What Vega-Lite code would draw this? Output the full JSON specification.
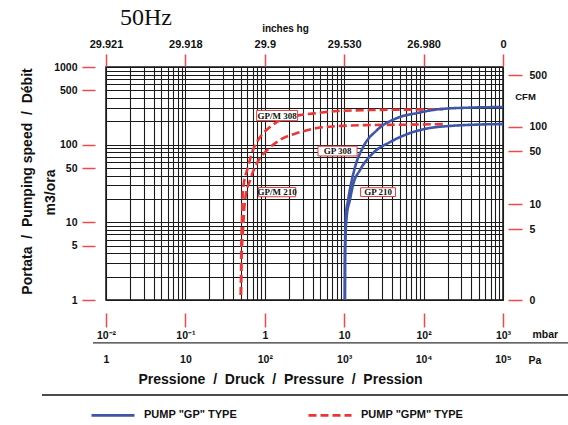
{
  "$schema": "https://vega.github.io/schema/vega-lite/v6.json",
  "autosize": "none",
  "width": 397,
  "height": 233,
  "padding": {"left": 106, "top": 67, "right": 65, "bottom": 125},
  "background": "white",
  "view": {"stroke": "#111", "strokeWidth": 1.5},
  "config": {
    "font": "Liberation Sans",
    "axis": {"labelFont": "Liberation Sans", "labelFontWeight": "bold", "labelFontSize": 10.5, "labelColor": "#111", "titleFont": "Liberation Sans", "titleFontWeight": "bold", "titleColor": "#111", "tickColor": "#f04848", "tickWidth": 1.5, "domain": false, "grid": false, "labelFlush": false, "labelOverlap": false}
  },
  "title": {"text": "50Hz", "font": "Liberation Serif", "fontSize": 24, "fontWeight": "normal", "color": "#111", "anchor": "start", "frame": "group", "dx": 14, "dy": 7, "offset": 0},
  "datasets": {
    "curves": [
      {"model": "GP 308", "type": "GP", "p": 10.2, "q": 1},
      {"model": "GP 308", "type": "GP", "p": 10.25, "q": 4.4},
      {"model": "GP 308", "type": "GP", "p": 10.5, "q": 12.4},
      {"model": "GP 308", "type": "GP", "p": 11.2, "q": 19.4},
      {"model": "GP 308", "type": "GP", "p": 13.7, "q": 51.5},
      {"model": "GP 308", "type": "GP", "p": 17.3, "q": 93},
      {"model": "GP 308", "type": "GP", "p": 25.9, "q": 154},
      {"model": "GP 308", "type": "GP", "p": 46.2, "q": 220},
      {"model": "GP 308", "type": "GP", "p": 82.6, "q": 255},
      {"model": "GP 308", "type": "GP", "p": 161, "q": 287},
      {"model": "GP 308", "type": "GP", "p": 384, "q": 300},
      {"model": "GP 308", "type": "GP", "p": 1000, "q": 305},
      {"model": "GP 210", "type": "GP", "p": 10.2, "q": 1},
      {"model": "GP 210", "type": "GP", "p": 10.25, "q": 4.4},
      {"model": "GP 210", "type": "GP", "p": 10.8, "q": 12.4},
      {"model": "GP 210", "type": "GP", "p": 11.8, "q": 19.4},
      {"model": "GP 210", "type": "GP", "p": 12.9, "q": 30.2},
      {"model": "GP 210", "type": "GP", "p": 15.8, "q": 47.1},
      {"model": "GP 210", "type": "GP", "p": 23.1, "q": 78},
      {"model": "GP 210", "type": "GP", "p": 37.8, "q": 108},
      {"model": "GP 210", "type": "GP", "p": 67.4, "q": 141},
      {"model": "GP 210", "type": "GP", "p": 120, "q": 164},
      {"model": "GP 210", "type": "GP", "p": 197, "q": 173},
      {"model": "GP 210", "type": "GP", "p": 444, "q": 181},
      {"model": "GP 210", "type": "GP", "p": 1000, "q": 184},
      {"model": "GP/M 308", "type": "GPM", "p": 0.5, "q": 1.16},
      {"model": "GP/M 308", "type": "GPM", "p": 0.505, "q": 4.4},
      {"model": "GP/M 308", "type": "GPM", "p": 0.516, "q": 10.7},
      {"model": "GP/M 308", "type": "GPM", "p": 0.531, "q": 26},
      {"model": "GP/M 308", "type": "GPM", "p": 0.614, "q": 51.5},
      {"model": "GP/M 308", "type": "GPM", "p": 0.709, "q": 85},
      {"model": "GP/M 308", "type": "GPM", "p": 0.871, "q": 125},
      {"model": "GP/M 308", "type": "GPM", "p": 1.16, "q": 169},
      {"model": "GP/M 308", "type": "GPM", "p": 1.69, "q": 213},
      {"model": "GP/M 308", "type": "GPM", "p": 2.77, "q": 240},
      {"model": "GP/M 308", "type": "GPM", "p": 4.54, "q": 255},
      {"model": "GP/M 308", "type": "GPM", "p": 8.11, "q": 271},
      {"model": "GP/M 308", "type": "GPM", "p": 21.1, "q": 279},
      {"model": "GP/M 308", "type": "GPM", "p": 67.4, "q": 283},
      {"model": "GP/M 308", "type": "GPM", "p": 175, "q": 287},
      {"model": "GP/M 210", "type": "GPM", "p": 0.5, "q": 1.16},
      {"model": "GP/M 210", "type": "GPM", "p": 0.51, "q": 3.27},
      {"model": "GP/M 210", "type": "GPM", "p": 0.531, "q": 7.96},
      {"model": "GP/M 210", "type": "GPM", "p": 0.564, "q": 19.4},
      {"model": "GP/M 210", "type": "GPM", "p": 0.652, "q": 35},
      {"model": "GP/M 210", "type": "GPM", "p": 0.798, "q": 58},
      {"model": "GP/M 210", "type": "GPM", "p": 1.07, "q": 85},
      {"model": "GP/M 210", "type": "GPM", "p": 1.55, "q": 115},
      {"model": "GP/M 210", "type": "GPM", "p": 2.55, "q": 141},
      {"model": "GP/M 210", "type": "GPM", "p": 4.54, "q": 164},
      {"model": "GP/M 210", "type": "GPM", "p": 8.11, "q": 173},
      {"model": "GP/M 210", "type": "GPM", "p": 21.1, "q": 179},
      {"model": "GP/M 210", "type": "GPM", "p": 67.4, "q": 181},
      {"model": "GP/M 210", "type": "GPM", "p": 175, "q": 184}
    ],
    "labels": [
      {"label": "GP/M 308", "p": 1.43, "q": 237},
      {"label": "GP 308", "p": 8.24, "q": 82.7},
      {"label": "GP/M 210", "p": 1.43, "q": 24.5},
      {"label": "GP 210", "p": 26.7, "q": 24.5}
    ]
  },
  "resolve": {"axis": {"x": "independent", "y": "independent"}},
  "layer": [
    {
      "data": {"name": "curves"},
      "transform": [{"filter": "datum.type == 'GPM'"}],
      "mark": {"type": "line", "strokeWidth": 2.6, "interpolate": "monotone", "clip": true},
      "encoding": {
        "x": {"field": "p", "type": "quantitative", "scale": {"type": "log", "domain": [0.01, 1000], "nice": false},
          "axis": {"orient": "bottom", "values": [0.01,0.02,0.03,0.04,0.05,0.06,0.07,0.08,0.09,0.1,0.2,0.3,0.4,0.5,0.6,0.7,0.8,0.9,1,2,3,4,5,6,7,8,9,10,20,30,40,50,60,70,80,90,100,200,300,400,500,600,700,800,900,1000],
            "grid": true, "gridColor": "#1a1a1a", "gridWidth": 1.1, "gridOpacity": 1, "ticks": false, "labels": false, "zindex": 0,
            "title": "Pressione\u00a0\u00a0/\u00a0\u00a0Druck\u00a0\u00a0/\u00a0\u00a0Pressure\u00a0\u00a0/\u00a0\u00a0Pression", "titleFontSize": 14, "titleX": 174, "titleY": 79, "titleBaseline": "middle", "titleAlign": "center"}},
        "y": {"field": "q", "type": "quantitative", "scale": {"type": "log", "domain": [1, 1000], "nice": false},
          "axis": {"orient": "left", "values": [1,2,3,4,5,6,7,8,9,10,20,30,40,50,60,70,80,90,100,200,300,400,500,600,700,800,900,1000],
            "grid": true, "gridColor": "#1a1a1a", "gridWidth": 1.1, "gridOpacity": 1, "ticks": false, "labels": false, "zindex": 0,
            "title": "m3/ora", "titleFontSize": 14, "titleAngle": -90, "titleX": -56, "titleY": 125, "titleBaseline": "middle", "titleAlign": "center"}},
        "color": {"field": "type", "type": "nominal", "scale": {"domain": ["GP", "GPM"], "range": ["#3d56a8", "#ee3535"]},
          "legend": {"orient": "none", "legendX": -16, "legendY": 325, "direction": "horizontal", "title": null, "symbolType": "stroke", "symbolSize": 1849, "symbolStrokeWidth": 2.6, "labelFont": "Liberation Sans", "labelFontWeight": "bold", "labelFontSize": 11, "labelColor": "#111", "labelOffset": 8, "columnPadding": 66,
            "labelExpr": "'PUMP \"' + datum.label + '\" TYPE'"}},
        "strokeDash": {"field": "type", "type": "nominal", "scale": {"domain": ["GP", "GPM"], "range": [[1, 0], [8, 4]]}},
        "detail": {"field": "model"}
      }
    },
    {
      "data": {"name": "curves"},
      "transform": [{"filter": "datum.type == 'GP'"}],
      "mark": {"type": "line", "strokeWidth": 2.6, "interpolate": "monotone", "clip": true},
      "encoding": {
        "x": {"field": "p", "type": "quantitative", "scale": {"type": "log", "domain": [0.01, 1000], "nice": false},
          "axis": {"orient": "bottom", "offset": 13, "tickSize": 14, "labelPadding": 3, "values": [0.01, 0.1, 1, 10, 100, 1000],
            "labelExpr": "['10⁻²','10⁻¹','1','10','10²','10³'][round(log(datum.value)/LN10)+2]",
            "title": "mbar", "titleFontSize": 10.5, "titleX": 426, "titleY": 21, "titleAlign": "left", "titleBaseline": "middle"}},
        "y": {"field": "q", "type": "quantitative", "scale": {"type": "log", "domain": [1, 1000], "nice": false},
          "axis": {"orient": "left", "offset": 11, "tickSize": 13, "labelPadding": 5, "values": [1, 5, 10, 50, 100, 500, 1000], "format": "d",
            "title": "Portata\u00a0\u00a0/\u00a0\u00a0Pumping speed\u00a0\u00a0/\u00a0\u00a0Débit", "titleFontSize": 14, "titleAngle": -90, "titleX": -68, "titleY": 114, "titleBaseline": "middle", "titleAlign": "center"}},
        "color": {"field": "type", "type": "nominal"},
        "strokeDash": {"field": "type", "type": "nominal"},
        "detail": {"field": "model"}
      }
    },
    {
      "data": {"name": "labels"},
      "mark": {"type": "point", "shape": "M-1,-0.25H1V0.25H-1Z", "filled": true, "fill": "white", "stroke": "#e23b3b", "strokeWidth": 1, "opacity": 1},
      "encoding": {
        "x": {"field": "p", "type": "quantitative", "scale": {"type": "log", "domain": [0.01, 1000], "nice": false},
          "axis": {"orient": "bottom", "offset": 50, "ticks": false, "tickSize": 0, "labelPadding": 4, "values": [0.01, 0.1, 1, 10, 100, 1000],
            "labelExpr": "['1','10','10²','10³','10⁴','10⁵'][round(log(datum.value)/LN10)+2]",
            "title": "Pa", "titleFontSize": 10.5, "titleX": 422, "titleY": 10, "titleAlign": "left", "titleBaseline": "middle"}},
        "y": {"field": "q", "type": "quantitative", "scale": {"type": "log", "domain": [1, 1000], "nice": false},
          "axis": {"orient": "right", "offset": 5, "tickSize": 14, "labelPadding": 7, "values": [1, 8.2, 17, 82, 170, 780],
            "labelExpr": "datum.value < 2 ? '0' : datum.value < 10 ? '5' : datum.value < 30 ? '10' : datum.value < 100 ? '50' : datum.value < 300 ? '100' : '500'",
            "title": "CFM", "titleFontSize": 9.5, "titleAngle": 0, "titleX": 17, "titleY": 29, "titleAlign": "center", "titleBaseline": "middle"}},
        "size": {"field": "label", "type": "nominal", "scale": {"domain": ["GP/M 308", "GP 308", "GP/M 210", "GP 210"], "range": [1681, 1225, 1681, 1600]}, "legend": null}
      }
    },
    {
      "data": {"name": "labels"},
      "mark": {"type": "text", "font": "Liberation Serif", "fontWeight": "bold", "fontSize": 9, "color": "#111", "align": "center", "baseline": "middle"},
      "encoding": {
        "x": {"field": "p", "type": "quantitative", "scale": {"type": "log", "domain": [0.01, 1000], "nice": false},
          "axis": {"orient": "top", "offset": 1, "tickSize": 12, "labelPadding": 5, "labelFontSize": 11, "values": [0.01, 0.1, 1, 10, 100, 1000],
            "labelExpr": "['29.921','29.918','29.9','29.530','26.980','0'][round(log(datum.value)/LN10)+2]",
            "title": "inches hg", "titleFontSize": 10, "titleX": 179, "titleY": -38, "titleAlign": "center", "titleBaseline": "middle"}},
        "y": {"field": "q", "type": "quantitative", "scale": {"type": "log", "domain": [1, 1000], "nice": false}, "axis": null},
        "text": {"field": "label"}
      }
    },
    {
      "data": {"values": [{}]},
      "mark": {"type": "rule", "color": "#333", "strokeWidth": 1.3},
      "encoding": {
        "x": {"datum": 0.00686, "type": "quantitative", "scale": {"type": "log", "domain": [0.01, 1000], "nice": false}, "axis": null},
        "x2": {"datum": 6590},
        "y": {"datum": 0.2797, "type": "quantitative", "scale": {"type": "log", "domain": [1, 1000], "nice": false}, "axis": null}
      }
    },
    {
      "data": {"values": [{}]},
      "mark": {"type": "rule", "color": "#111", "strokeWidth": 1.6},
      "encoding": {
        "x": {"datum": 0.001563, "type": "quantitative", "scale": {"type": "log", "domain": [0.01, 1000], "nice": false}, "axis": null},
        "x2": {"datum": 6590},
        "y": {"datum": 0.0599, "type": "quantitative", "scale": {"type": "log", "domain": [1, 1000], "nice": false}, "axis": null}
      }
    }
  ]
}
